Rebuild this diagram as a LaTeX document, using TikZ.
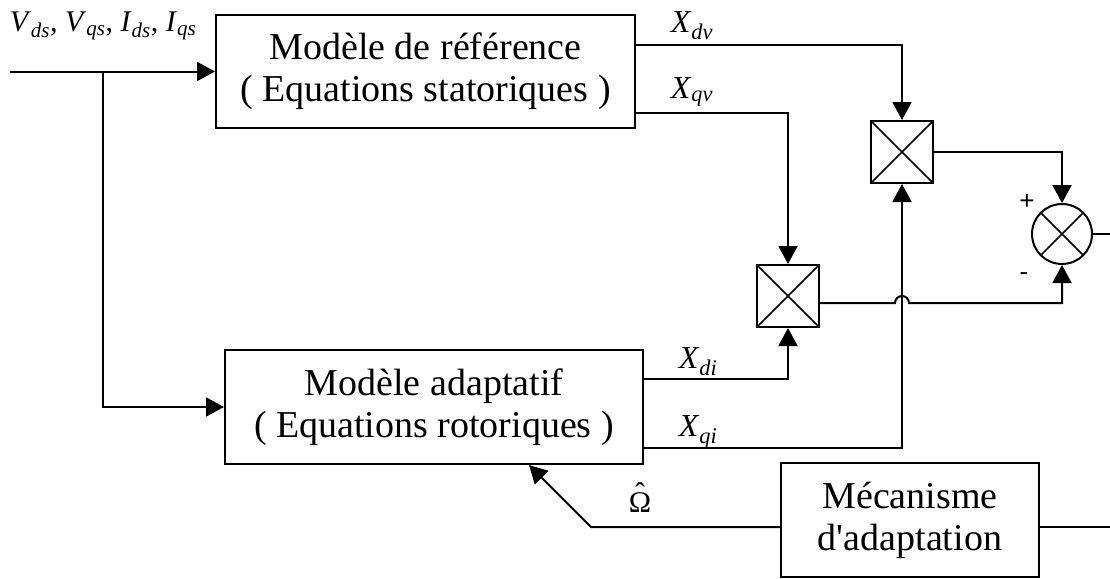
\documentclass[tikz,border=0pt]{standalone}
\usepackage{fontspec}
\setmainfont{Liberation Serif}[Ligatures=TeXOff]
\newfontfamily\signfont{Liberation Sans}
\usetikzlibrary{positioning, arrows.meta}

\newcommand{\vsig}[2]{\textit{#1}\textsubscript{\textit{#2}}}

\begin{document}
\begin{tikzpicture}[x=1pt,y=-1pt,->,>={Triangle[length=18pt,width=19pt]},line width=2pt,
    block/.style={draw,align=center,inner sep=0pt,font=\fontsize{38}{42}\selectfont},
    mult/.style={draw,minimum size=62pt,inner sep=0pt,
      path picture={\draw[-,line width=1.6pt] (path picture bounding box.north west) -- (path picture bounding box.south east)
        (path picture bounding box.south west) -- (path picture bounding box.north east);}},
    summ/.style={draw,circle,minimum size=60pt,inner sep=0pt,
      path picture={\draw[-,line width=1.6pt] (path picture bounding box.north west) -- (path picture bounding box.south east)
        (path picture bounding box.south west) -- (path picture bounding box.north east);}},
    sig/.style={font=\fontsize{32}{38}\selectfont},
    sign/.style={font=\signfont\fontsize{26}{30}\selectfont}]
  \useasboundingbox (0,0) rectangle (1110,578);

  \node[block,minimum width=419pt,minimum height=113pt] (ref) at (425.5,71.5) {Modèle de référence\\( Equations statoriques )};
  \node[block,minimum width=418pt,minimum height=114pt] (ada) at (434,407) {Modèle adaptatif\\( Equations rotoriques )};
  \node[block,minimum width=258pt,minimum height=114pt] (mech) at (910,520) {Mécanisme\\d'adaptation};
  \node[mult] (m1) at (902,152) {};
  \node[mult] (m2) at (788,296) {};
  \node[summ] (sum) at (1062,234) {};

  \node[sig,font=\fontsize{30}{36}\selectfont] (lin) at (103,26) {\vsig{V}{ds}, \vsig{V}{qs}, \vsig{I}{ds}, \vsig{I}{qs}};
  \node[sig] (ldv) at (692,26) {\vsig{X}{dv}};
  \node[sig] (lqv) at (692,92) {\vsig{X}{qv}};
  \node[sig] (ldi) at (698,362) {\vsig{X}{di}};
  \node[sig] (lqi) at (698,432) {\vsig{X}{qi}};
  \node[font=\fontsize{30}{36}\selectfont,inner sep=0pt] (lom) at (640,503) {\ooalign{Ω\cr\hidewidth\raisebox{0.3em}{ˆ}\hidewidth\cr}};
  \node[sign] (lp) at (1027,202) {+};
  \node[sign] (lm) at (1024,277) {-};

  \coordinate (in) at (10,71.5);
  \coordinate (split) at (103,71.5);
  \coordinate (jump) at (902,303);
  \coordinate (bend) at (591,527);
  \coordinate (out) at (1110,234);
  \coordinate (out2) at (1110,527);

  \draw (in) -- (ref.west);
  \draw (split) |- (ada.west);
  \draw ([yshift=26.5pt]ref.east) -| (m1.north);
  \draw ([yshift=-41.5pt]ref.east) -| (m2.north);
  \draw ([yshift=28pt]ada.east) -| (m2.south);
  \draw ([yshift=-41pt]ada.east) -| (m1.south);
  \draw (m1.east) -| (sum.north);
  \draw ([yshift=-7pt]m2.east) -- ([xshift=-7pt]jump) arc[start angle=180,end angle=360,radius=7] -| (sum.south);
  \draw[-] (sum.east) -- (out);
  \draw[-] (mech.east |- bend) -- (out2);
  \draw (mech.west |- bend) -- (bend) -- ([xshift=305pt]ada.south west);
\end{tikzpicture}
\end{document}
